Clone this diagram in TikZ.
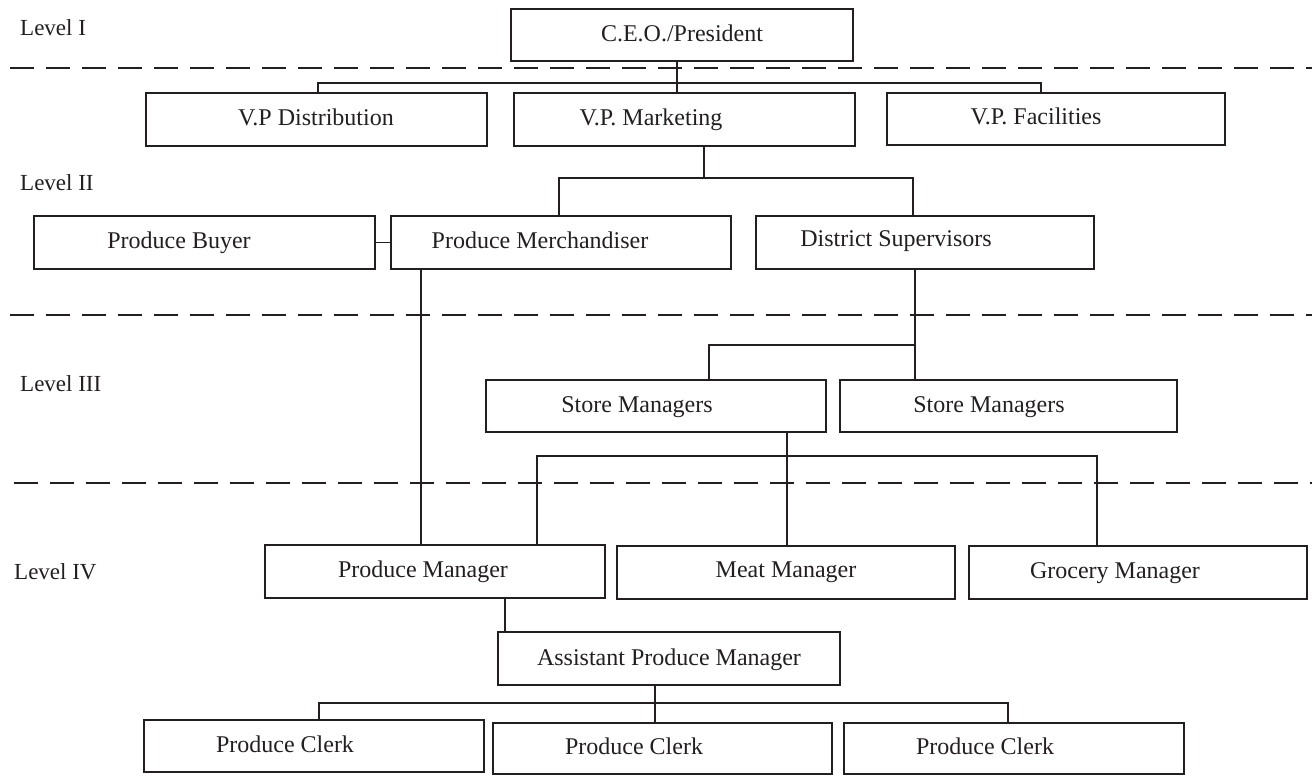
\documentclass[tikz,border=0pt]{standalone}
\usepackage{fontspec}
\setmainfont{Liberation Serif}
\definecolor{ink}{RGB}{35,31,32}
\tikzset{
  box/.style={draw=ink, line width=1.9pt, rectangle, minimum height=52pt, inner sep=0pt},
  lbl/.style={text=ink, font=\fontsize{24}{28}\selectfont, inner sep=0pt, anchor=base},
  lvl/.style={text=ink, font=\fontsize{23}{27}\selectfont, inner sep=0pt, anchor=base west},
  conn/.style={draw=ink, line width=1.7pt},
  level line/.style={draw=ink, line width=2.4pt, dash pattern=on 24pt off 12pt}
}
\begin{document}
\begin{tikzpicture}[x=1pt,y=-1pt]
\useasboundingbox (0,0) rectangle (1314,774);
% level separators
\draw[level line] (10,68) -- (1312,68);
\draw[level line] (10,315) -- (1312,315);
\draw[level line] (14,483) -- (1312,483);
% level labels
\node[lvl] (lv1) at (20,35) {Level I};
\node[lvl] (lv2) at (20,190) {Level II};
\node[lvl] (lv3) at (20,391) {Level III};
\node[lvl] (lv4) at (14,579) {Level IV};
% boxes
\node[box, minimum width=342pt] (ceo) at (682,35) {};
\node[box, minimum width=341pt, minimum height=53pt] (vpd) at (316.5,119.5) {};
\node[box, minimum width=341pt, minimum height=53pt] (vpm) at (684.5,119.5) {};
\node[box, minimum width=338pt] (vpf) at (1056,119) {};
\node[box, minimum width=341pt, minimum height=53pt] (pb) at (204.5,242.5) {};
\node[box, minimum width=340pt, minimum height=53pt] (pmer) at (561,242.5) {};
\node[box, minimum width=338pt, minimum height=53pt] (ds) at (925,242.5) {};
\node[box, minimum width=340pt] (sm1) at (656,406) {};
\node[box, minimum width=337pt] (sm2) at (1008.5,406) {};
\node[box, minimum width=340pt, minimum height=53pt] (pman) at (435,571.5) {};
\node[box, minimum width=338pt, minimum height=53pt] (meat) at (786,572.5) {};
\node[box, minimum width=338pt, minimum height=53pt] (groc) at (1138,572.5) {};
\node[box, minimum width=342pt, minimum height=53pt] (apm) at (669,658.5) {};
\node[box, minimum width=340pt] (pc1) at (314,746) {};
\node[box, minimum width=339pt, minimum height=51pt] (pc2) at (662.5,748.5) {};
\node[box, minimum width=340pt, minimum height=51pt] (pc3) at (1014,748.5) {};
% box texts
\node[lbl] (ceo-t) at (682,41) {C.E.O./President};
\node[lbl] (vpd-t) at (316,125) {V.P Distribution};
\node[lbl] (vpm-t) at (651,125) {V.P. Marketing};
\node[lbl] (vpf-t) at (1036,124) {V.P. Facilities};
\node[lbl] (pb-t) at (179,248) {Produce Buyer};
\node[lbl] (pmer-t) at (540,248) {Produce Merchandiser};
\node[lbl] (ds-t) at (896,246) {District Supervisors};
\node[lbl] (sm1-t) at (637,412) {Store Managers};
\node[lbl] (sm2-t) at (989,412) {Store Managers};
\node[lbl] (pman-t) at (423,577) {Produce Manager};
\node[lbl] (meat-t) at (786,577) {Meat Manager};
\node[lbl] (groc-t) at (1115,578) {Grocery Manager};
\node[lbl] (apm-t) at (669,665) {Assistant Produce Manager};
\node[lbl] (pc1-t) at (285,752) {Produce Clerk};
\node[lbl] (pc2-t) at (634,754) {Produce Clerk};
\node[lbl] (pc3-t) at (985,754) {Produce Clerk};
% bus coordinates
\coordinate (t1) at (677,83);
\coordinate (l1) at (318,83);
\coordinate (r1) at (1041,83);
\coordinate (t2) at (704,178);
\coordinate (l2) at (559,178);
\coordinate (r2) at (913,178);
\coordinate (m1) at (421,300);
\coordinate (t3) at (915,345);
\coordinate (l3) at (709,345);
\coordinate (t4) at (787,456);
\coordinate (l4) at (537,456);
\coordinate (r4) at (1097,456);
\coordinate (m2) at (505,615);
\coordinate (t5) at (655,703);
\coordinate (l5) at (319,703);
\coordinate (r5) at (1008,703);
% connectors
\draw[conn] (ceo.south -| t1) -- (vpm.north -| t1);
\draw[conn] (vpd.north -| l1) -- (l1) -- (r1) -- (vpf.north -| r1);
\draw[conn] (vpm.south -| t2) -- (t2);
\draw[conn] (pmer.north -| l2) -- (l2) -- (r2) -- (ds.north -| r2);
\draw[conn] (pb.east) -- (pmer.west);
\draw[conn] (pmer.south -| m1) -- (pman.north -| m1);
\draw[conn] (ds.south -| t3) -- (sm2.north -| t3);
\draw[conn] (t3) -- (l3) -- (sm1.north -| l3);
\draw[conn] (sm1.south -| t4) -- (meat.north -| t4);
\draw[conn] (pman.north -| l4) -- (l4) -- (r4) -- (groc.north -| r4);
\draw[conn] (pman.south -| m2) -- (apm.north -| m2);
\draw[conn] (apm.south -| t5) -- (pc2.north -| t5);
\draw[conn] (pc1.north -| l5) -- (l5) -- (r5) -- (pc3.north -| r5);
\end{tikzpicture}
\end{document}
